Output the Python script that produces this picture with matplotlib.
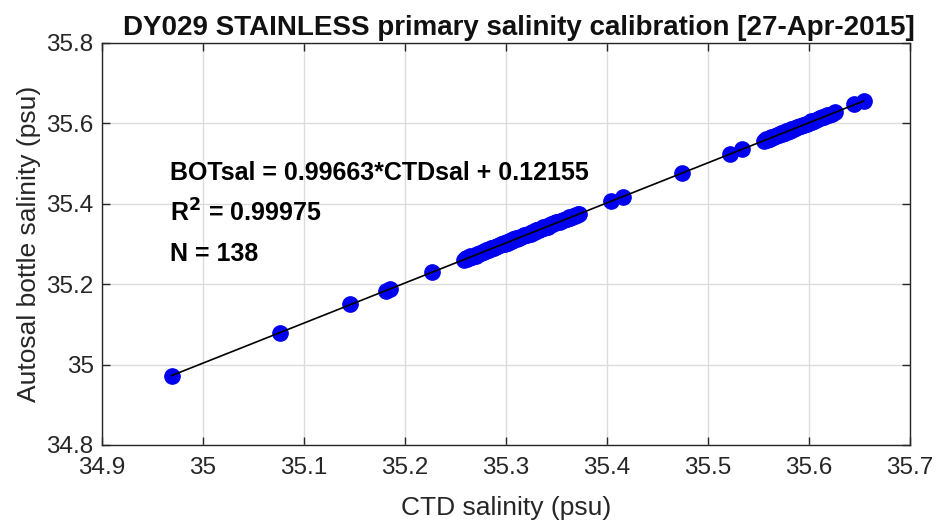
import matplotlib
matplotlib.use("Agg")
import matplotlib.pyplot as plt

plt.rcParams['font.family'] = ['Liberation Sans', 'DejaVu Sans']

# CTD salinity (psu) and the matching Autosal bottle salinity (psu)
ctd_sal = [
    34.969, 35.076, 35.146, 35.181, 35.185, 35.227,
    35.258, 35.260, 35.261, 35.263, 35.264, 35.266, 35.268, 35.270, 35.271, 35.273,
    35.275, 35.276, 35.278, 35.280, 35.281, 35.283, 35.285, 35.286, 35.288, 35.289,
    35.291, 35.292, 35.294, 35.295, 35.297, 35.298, 35.299, 35.301, 35.302, 35.303,
    35.305, 35.306, 35.307, 35.309, 35.310, 35.311, 35.313, 35.314, 35.315, 35.317,
    35.318, 35.319, 35.321, 35.322, 35.323, 35.325, 35.326, 35.327, 35.329, 35.330,
    35.331, 35.333, 35.334, 35.335, 35.337, 35.338, 35.340, 35.341, 35.342, 35.344,
    35.345, 35.347, 35.348, 35.350, 35.351, 35.353, 35.354, 35.356, 35.357, 35.359,
    35.360, 35.362, 35.363, 35.365, 35.366, 35.368, 35.369, 35.371, 35.372, 35.370,
    35.404, 35.416, 35.474, 35.522, 35.534,
    35.555, 35.557, 35.558, 35.560, 35.561, 35.562, 35.564, 35.565, 35.566, 35.568,
    35.569, 35.570, 35.572, 35.573, 35.574, 35.576, 35.577, 35.578, 35.580, 35.581,
    35.582, 35.584, 35.585, 35.586, 35.588, 35.589, 35.591, 35.592, 35.594, 35.595,
    35.597, 35.598, 35.600, 35.602, 35.603, 35.605, 35.607, 35.609, 35.611, 35.613,
    35.615, 35.618, 35.620, 35.623, 35.626,
    35.645, 35.654,
]
bot_sal = [
    34.972, 35.079, 35.150, 35.184, 35.188, 35.230,
    35.261, 35.264, 35.263, 35.266, 35.269, 35.268, 35.271, 35.271, 35.275, 35.276,
    35.277, 35.280, 35.281, 35.285, 35.284, 35.285, 35.289, 35.289, 35.289, 35.292,
    35.295, 35.294, 35.297, 35.300, 35.300, 35.302, 35.301, 35.304, 35.303, 35.307,
    35.308, 35.308, 35.312, 35.312, 35.314, 35.313, 35.316, 35.318, 35.317, 35.320,
    35.323, 35.322, 35.323, 35.326, 35.326, 35.326, 35.329, 35.331, 35.331, 35.335,
    35.334, 35.335, 35.338, 35.338, 35.342, 35.340, 35.343, 35.345, 35.343, 35.347,
    35.349, 35.349, 35.351, 35.355, 35.354, 35.355, 35.358, 35.359, 35.359, 35.363,
    35.363, 35.367, 35.365, 35.368, 35.370, 35.370, 35.372, 35.374, 35.374, 35.373,
    35.407, 35.418, 35.476, 35.524, 35.536,
    35.557, 35.560, 35.559, 35.562, 35.561, 35.565, 35.566, 35.566, 35.568, 35.571,
    35.570, 35.572, 35.575, 35.573, 35.576, 35.577, 35.580, 35.580, 35.582, 35.582,
    35.585, 35.586, 35.585, 35.588, 35.591, 35.590, 35.593, 35.594, 35.597, 35.596,
    35.599, 35.598, 35.602, 35.605, 35.604, 35.607, 35.609, 35.610, 35.614, 35.615,
    35.616, 35.620, 35.622, 35.624, 35.628,
    35.647, 35.655,
]

# Linear calibration fit
slope = 0.99663
intercept = 0.12155
r_squared = 0.99975

x_ticks = [34.9, 35.0, 35.1, 35.2, 35.3, 35.4, 35.5, 35.6, 35.7]
x_tick_labels = ['34.9', '35', '35.1', '35.2', '35.3', '35.4', '35.5', '35.6', '35.7']
y_ticks = [34.8, 35.0, 35.2, 35.4, 35.6, 35.8]
y_tick_labels = ['34.8', '35', '35.2', '35.4', '35.6', '35.8']

fig = plt.figure(figsize=(9.39, 5.24), dpi=100)
ax = fig.add_axes([0.1086, 0.1508, 0.8605, 0.7672])

ax.plot(ctd_sal, bot_sal, 'o', color='#0000F0', markeredgecolor='#0000F0',
        markersize=11, zorder=2)

x_fit = [min(ctd_sal), max(ctd_sal)]
y_fit = [slope * v + intercept for v in x_fit]
ax.plot(x_fit, y_fit, '-', color='black', linewidth=1.2, zorder=3)

ax.set_xlim(34.9, 35.7)
ax.set_ylim(34.8, 35.8)
ax.set_xticks(x_ticks)
ax.set_xticklabels(x_tick_labels)
ax.set_yticks(y_ticks)
ax.set_yticklabels(y_tick_labels)

ax.grid(True, color='#DCDCDC', linewidth=1.0)
ax.set_axisbelow(True)
for side in ax.spines.values():
    side.set_color('#262626')
    side.set_linewidth(1.0)
ax.tick_params(direction='in', length=6, width=1.0, colors='#262626',
               labelsize=17.5, top=True, right=True)
ax.tick_params(axis='x', pad=9)
ax.tick_params(axis='y', pad=6)

ax.set_xlabel('CTD salinity (psu)', fontsize=19, color='#262626', labelpad=12)
ax.set_ylabel('Autosal bottle salinity (psu)', fontsize=19, color='#262626', labelpad=4)
ax.set_title('DY029 STAINLESS primary salinity calibration [27-Apr-2015]',
             fontsize=20, fontweight='bold', color='#111111', pad=6, x=0.516)

ax.text(34.967, 35.477, f'BOTsal = {slope:.5f}*CTDsal + {intercept:.5f}',
        fontsize=18, fontweight='bold', va='center', ha='left')
ax.text(34.967, 35.377, f'R$^\\mathbf{{2}}$ = {r_squared:.5f}',
        fontsize=18, fontweight='bold', va='center', ha='left')
ax.text(34.967, 35.275, f'N = {len(ctd_sal)}',
        fontsize=18, fontweight='bold', va='center', ha='left')

fig.savefig('out.png', dpi=100)
